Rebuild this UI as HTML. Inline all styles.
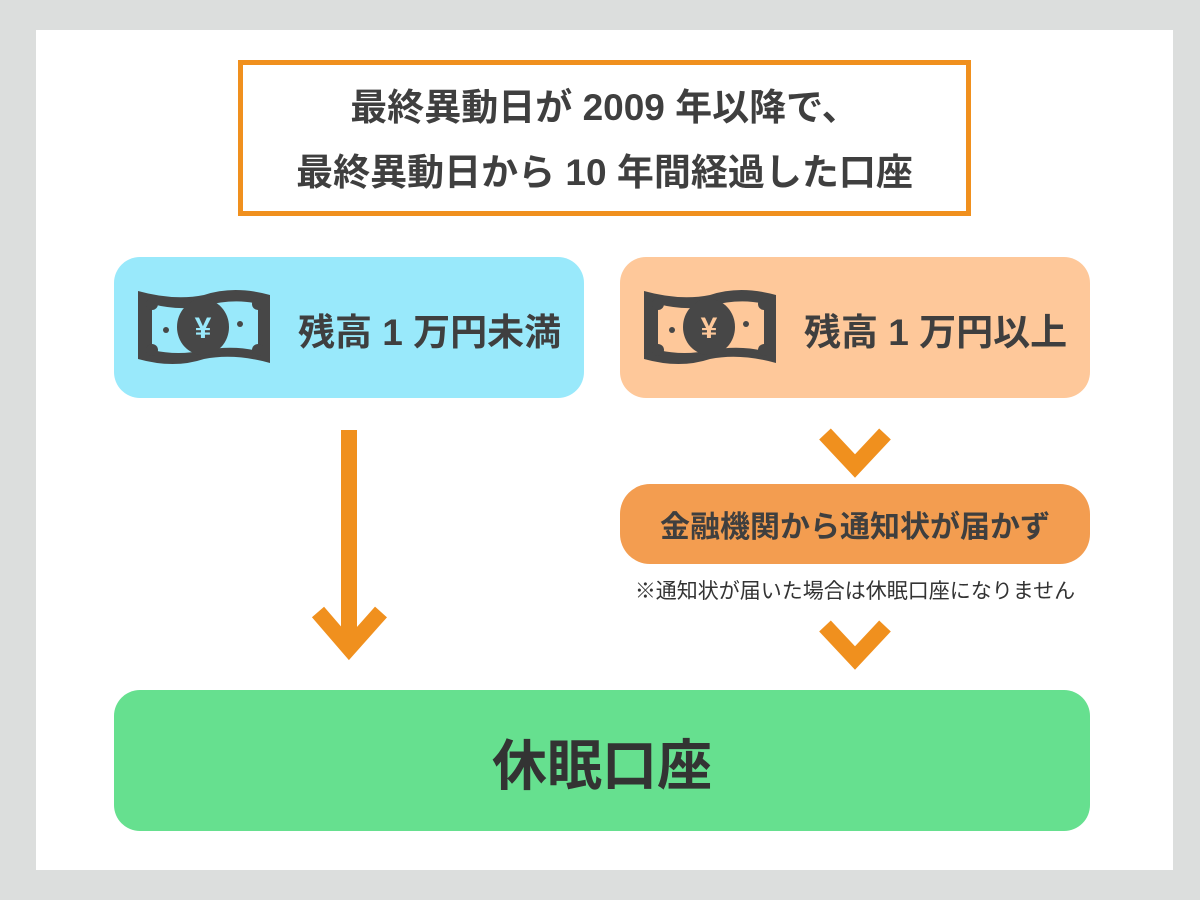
<!DOCTYPE html>
<html><head><meta charset="utf-8"><style>
body{margin:0;width:1200px;height:900px;background:#dcdedd;position:relative;overflow:hidden;font-family:"Liberation Sans","Noto Sans CJK JP",sans-serif;color:#3f3f3f;font-weight:bold}
.a{position:absolute}
.panel{left:36px;top:30px;width:1137px;height:840px;background:#fff}
.title{left:238px;top:60px;width:723px;height:146px;border:5px solid #f0901e;display:flex;flex-direction:column;justify-content:center;align-items:center;font-size:37px;line-height:65px;padding-top:4px;box-sizing:content-box}
.box{border-radius:26px;display:flex;align-items:center}
.lbl{font-size:37px;white-space:nowrap}
</style></head><body>
<div class="a panel"></div>
<div class="a title" style="height:142px"><div>最終異動日が 2009 年以降で、</div><div>最終異動日から 10 年間経過した口座</div></div>

<div class="a box" style="left:114px;top:257px;width:470px;height:141px;background:#99e9fb">
<svg class="a" style="left:20px;top:30px" width="140" height="80" viewBox="0 0 140 80"><g fill="#474747">
<path d="M4 4 Q40 14 70 8 Q100 -2 136 8 L136 76 Q100 66 70 72 Q40 82 4 72 Z"/></g>
<path fill="#99e9fb" d="M18 17 Q45 24 70 19 Q100 11 124 17 L124 64 Q100 58 70 63 Q45 69 18 63 Z"/>
<ellipse cx="69" cy="40" rx="26" ry="28" fill="#474747"/>
<circle cx="18" cy="17" r="6" fill="#474747"/><circle cx="124" cy="17" r="6" fill="#474747"/><circle cx="18" cy="63" r="6" fill="#474747"/><circle cx="124" cy="63" r="6" fill="#474747"/>
<circle cx="32" cy="43" r="3" fill="#474747"/><circle cx="106" cy="37" r="3" fill="#474747"/>
<text x="69" y="51" text-anchor="middle" font-size="30" font-weight="bold" fill="#99e9fb" font-family="Liberation Sans,sans-serif">¥</text>
</svg>
<div class="a lbl" style="left:184px;top:45px">残高 1 万円未満</div></div>

<div class="a box" style="left:620px;top:257px;width:470px;height:141px;background:#fec89a">
<svg class="a" style="left:20px;top:30px" width="140" height="80" viewBox="0 0 140 80"><g fill="#474747">
<path d="M4 4 Q40 14 70 8 Q100 -2 136 8 L136 76 Q100 66 70 72 Q40 82 4 72 Z"/></g>
<path fill="#fec89a" d="M18 17 Q45 24 70 19 Q100 11 124 17 L124 64 Q100 58 70 63 Q45 69 18 63 Z"/>
<ellipse cx="69" cy="40" rx="26" ry="28" fill="#474747"/>
<circle cx="18" cy="17" r="6" fill="#474747"/><circle cx="124" cy="17" r="6" fill="#474747"/><circle cx="18" cy="63" r="6" fill="#474747"/><circle cx="124" cy="63" r="6" fill="#474747"/>
<circle cx="32" cy="43" r="3" fill="#474747"/><circle cx="106" cy="37" r="3" fill="#474747"/>
<text x="69" y="51" text-anchor="middle" font-size="30" font-weight="bold" fill="#fec89a" font-family="Liberation Sans,sans-serif">¥</text>
</svg>
<div class="a lbl" style="left:184px;top:45px">残高 1 万円以上</div></div>

<div class="a box" style="left:620px;top:484px;width:470px;height:80px;border-radius:30px;background:#f39d50;justify-content:center;font-size:30px">金融機関から通知状が届かず</div>
<div class="a" style="left:600px;top:575px;width:510px;text-align:center;font-size:21px;font-weight:normal;color:#333">※通知状が届いた場合は休眠口座になりません</div>

<div class="a box" style="left:114px;top:690px;width:976px;height:141px;background:#66e08f;justify-content:center;font-size:55px;color:#333">休眠口座</div>

<svg class="a" style="left:0;top:0" width="1200" height="900"><g stroke="#f0901e" stroke-width="16" fill="none">
<line x1="349" y1="430" x2="349" y2="650"/>
<polyline points="318,612 349,648 381,612"/>
<polyline points="825,434 855,466 885,434"/>
<polyline points="825,626 855,658 885,626"/>
</g></svg>
</body></html>
